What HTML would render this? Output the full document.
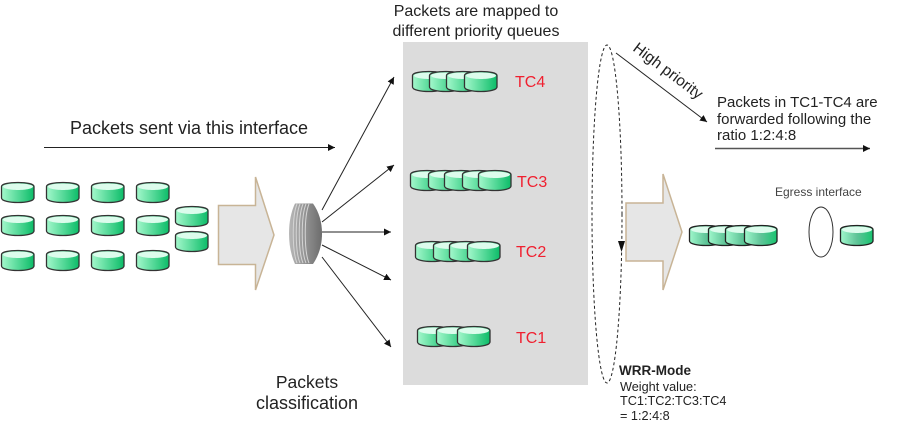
<!DOCTYPE html>
<html>
<head>
<meta charset="utf-8">
<style>
html,body{margin:0;padding:0;background:#fff;width:907px;height:423px;overflow:hidden}
svg{display:block}
text{font-family:"Liberation Sans",sans-serif;fill:#222}
.tc{font-size:16px;fill:#f02030}
</style>
</head>
<body>
<svg width="907" height="423" viewBox="0 0 907 423" xmlns="http://www.w3.org/2000/svg">
<defs>
<linearGradient id="g" x1="0" x2="1" y1="0" y2="0"><stop offset="0" stop-color="#a4f8cc"/><stop offset="1" stop-color="#0cbc68"/></linearGradient>
<linearGradient id="g2" x1="0" x2="1" y1="0" y2="0"><stop offset="0" stop-color="#a0f8cc"/><stop offset=".5" stop-color="#60c498"/><stop offset="1" stop-color="#18c470"/></linearGradient>
<linearGradient id="d" x1="0" x2="1" y1="0" y2="0"><stop offset="0" stop-color="#b8b8b8"/><stop offset="1" stop-color="#6c6c6c"/></linearGradient>
<g id="c"><path d="M.5 4.500C.5 2 8 .5 17 .5S33 2 33 4.500V16C33 19 25 20.500 17 20.500S.5 19 .5 16Z" fill="url(#g)" stroke="#333" stroke-width="1.300"/><path d="M2 4.500C2 3 8 1.500 17 1.500S32 3 32 4.500C32 6.500 25 8 17 8S2 6.500 2 4.500Z" fill="#dcfcec"/></g>
<g id="e"><path d="M.5 4.500C.5 2 8 .5 17 .5S33 2 33 4.500V16C33 19 25 20.500 17 20.500S.5 19 .5 16Z" fill="url(#g2)" stroke="#222" stroke-width="1.300"/><path d="M2 4.500C2 3 8 1.500 17 1.500S32 3 32 4.500C32 6.500 25 8 17 8S2 6.500 2 4.500Z" fill="#dcfcec"/></g>
<marker id="a" markerWidth="8" markerHeight="8" refX="7" refY="3.500" orient="auto" markerUnits="userSpaceOnUse"><path d="M0 0L7 3.500L0 7Z" fill="#111"/></marker>
</defs>

<rect x="403" y="42" width="185" height="343" fill="#dcdcdc"/>

<!-- ingress packets -->
<use href="#c" x="1" y="182"/><use href="#c" x="46" y="182"/><use href="#c" x="91" y="182"/><use href="#c" x="136" y="182"/>
<use href="#c" x="1" y="215"/><use href="#c" x="46" y="215"/><use href="#c" x="91" y="215"/><use href="#c" x="136" y="215"/>
<use href="#c" x="1" y="250"/><use href="#c" x="46" y="250"/><use href="#c" x="91" y="250"/><use href="#c" x="136" y="250"/>
<use href="#c" x="175" y="206"/><use href="#c" x="175" y="231"/>

<!-- big arrows -->
<path d="M218.500 205.500H255.500V177L274 235L255.500 290V264.500H218.500Z" fill="#e6e6e6" stroke="#c8b496" stroke-width="1.500"/>
<path d="M626 203H663V174L682 232L663 290V261H626Z" fill="#e6e6e6" stroke="#c8b496" stroke-width="1.500"/>

<!-- classifier disk -->
<path d="M295 203.500H313C319 212 322 222 322 233.500S319 255 313 264H295C291 255 289 245 289 233.500S291 212 295 203.500Z" fill="url(#d)"/>
<g fill="none" stroke="#d4d4d4" stroke-width="1"><path d="M297 204C292 216 292 251 297 263"/><path d="M300 204C295 216 295 251 300 263"/><path d="M303 204C298 216 298 251 303 263"/><path d="M306 204C301 216 301 251 306 263"/><path d="M309 204C304 216 304 251 309 263"/></g>

<!-- fan-out arrows -->
<g stroke="#222" stroke-width="1" fill="none">
<line x1="322" y1="210" x2="394" y2="77" marker-end="url(#a)"/>
<line x1="322" y1="222" x2="394" y2="165" marker-end="url(#a)"/>
<line x1="322" y1="232" x2="391" y2="232" marker-end="url(#a)"/>
<line x1="322" y1="245" x2="391" y2="280" marker-end="url(#a)"/>
<line x1="322" y1="257" x2="391" y2="347" marker-end="url(#a)"/>
<line x1="44" y1="147.500" x2="335" y2="147.500" marker-end="url(#a)"/>
<line x1="616" y1="53" x2="707" y2="122" marker-end="url(#a)"/>
<line x1="715" y1="148.500" x2="870" y2="148.500" stroke="#555" stroke-width="1.500" marker-end="url(#a)"/>
</g>

<!-- queues -->
<use href="#c" x="412" y="71"/><use href="#c" x="429" y="71"/><use href="#c" x="446" y="71"/><use href="#c" x="464" y="71"/>
<use href="#c" x="410" y="170"/><use href="#c" x="428" y="170"/><use href="#c" x="444" y="170"/><use href="#c" x="462" y="170"/><use href="#c" x="478" y="170"/>
<use href="#c" x="415" y="241"/><use href="#c" x="433" y="241"/><use href="#c" x="449" y="241"/><use href="#c" x="467" y="241"/>
<use href="#c" x="417" y="326"/><use href="#c" x="436" y="326"/><use href="#c" x="457" y="326"/>

<text class="tc" x="515" y="87">TC4</text>
<text class="tc" x="517" y="187">TC3</text>
<text class="tc" x="516" y="257">TC2</text>
<text class="tc" x="516" y="343">TC1</text>

<!-- WRR ellipse -->
<ellipse cx="607" cy="214" rx="15" ry="169" fill="none" stroke="#222" stroke-width="1" stroke-dasharray="3 2.500"/>
<path d="M618 241H625L621.500 252Z" fill="#111"/>

<!-- egress -->
<use href="#e" x="689" y="225"/><use href="#e" x="708" y="225"/><use href="#e" x="725" y="225"/><use href="#e" x="744" y="225"/>
<use href="#e" x="840" y="225"/>
<ellipse cx="821" cy="232" rx="12" ry="25" fill="none" stroke="#333" stroke-width="1"/>

<!-- labels -->
<text x="476" y="16" font-size="16" text-anchor="middle">Packets are mapped to</text>
<text x="476" y="36" font-size="16" text-anchor="middle">different priority queues</text>
<text x="189" y="134" font-size="18" text-anchor="middle">Packets sent via this interface</text>
<text x="307" y="388" font-size="17.500" text-anchor="middle">Packets</text>
<text x="307" y="409" font-size="18" text-anchor="middle">classification</text>
<text transform="translate(632 50) rotate(37)" font-size="15.500">High priority</text>
<text x="717" y="107" font-size="15">Packets in TC1-TC4 are</text>
<text x="717" y="124" font-size="15">forwarded following the</text>
<text x="717" y="140" font-size="15">ratio 1:2:4:8</text>
<text x="775" y="196" font-size="12" style="fill:#444">Egress interface</text>
<text x="619" y="375" font-size="13.500" font-weight="bold">WRR-Mode</text>
<text x="620" y="391" font-size="12.700">Weight value:</text>
<text x="620" y="405" font-size="12.700">TC1:TC2:TC3:TC4</text>
<text x="620" y="420" font-size="12.700">= 1:2:4:8</text>
</svg>
</body>
</html>
